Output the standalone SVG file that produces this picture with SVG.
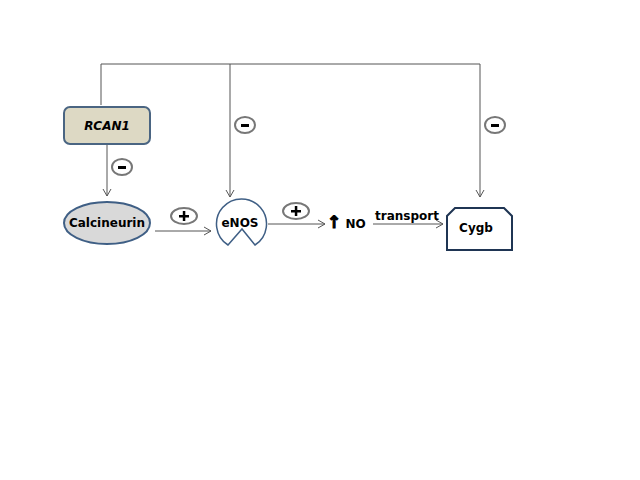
<svg xmlns="http://www.w3.org/2000/svg" width="640" height="480" viewBox="0 0 640 480">
<style>
.ln{fill:none;stroke:#555;stroke-width:1}
.sg{fill:#fff;stroke:#777;stroke-width:2}
.bar{fill:#000}
.t{font-family:"DejaVu Sans","Liberation Sans",sans-serif;font-weight:bold;font-size:12px;fill:#000}
</style>
<defs>
<marker id="ah" markerWidth="10" markerHeight="10" refX="8" refY="5" orient="auto" markerUnits="userSpaceOnUse">
<path d="M1,1 L8,5 L1,9" fill="none" stroke="#555" stroke-width="1"/>
</marker>
</defs>
<rect width="640" height="480" fill="#fff"/>
<g id="connectors">
<path class="ln" d="M101,105 V64 H480 V197" marker-end="url(#ah)"/>
<path class="ln" d="M230,64 V197" marker-end="url(#ah)"/>
<path class="ln" d="M107,145 V196" marker-end="url(#ah)"/>
<path class="ln" d="M155,231 H211" marker-end="url(#ah)"/>
<path class="ln" d="M268,224 H325" marker-end="url(#ah)"/>
<path class="ln" d="M373,224 H443" marker-end="url(#ah)"/>
</g>
<g id="signs">
<g><ellipse class="sg" cx="122" cy="167" rx="10" ry="8"/><rect class="bar" x="118" y="166" width="8" height="3"/></g>
<g><ellipse class="sg" cx="245" cy="125" rx="10" ry="8"/><rect class="bar" x="241" y="124" width="8" height="3"/></g>
<g><ellipse class="sg" cx="495" cy="125" rx="10" ry="8"/><rect class="bar" x="491" y="124" width="8" height="3"/></g>
<g><ellipse class="sg" cx="184" cy="216" rx="13" ry="8"/><rect class="bar" x="179" y="215" width="10" height="2.5"/><rect class="bar" x="182.8" y="211" width="2.5" height="10"/></g>
<g><ellipse class="sg" cx="296" cy="211" rx="13" ry="8"/><rect class="bar" x="291" y="210" width="10" height="2.5"/><rect class="bar" x="294.8" y="206" width="2.5" height="10"/></g>
</g>
<g id="RCAN1">
<rect x="64" y="107" width="86" height="37" rx="6" fill="#ddd9c4" stroke="#4a6582" stroke-width="2"/>
<text class="t" x="107" y="130" text-anchor="middle" font-style="italic">RCAN1</text>
</g>
<g id="Calcineurin">
<ellipse cx="107" cy="223" rx="43" ry="21" fill="#d9d9d9" stroke="#3f5f85" stroke-width="2"/>
<text class="t" x="107" y="227" text-anchor="middle">Calcineurin</text>
</g>
<g id="eNOS">
<path d="M228,245 A25,25 0 1 1 255,245 L242,229 Z" fill="#fff" stroke="#3f5f85" stroke-width="1.5"/>
<text class="t" x="240" y="227" text-anchor="middle" font-size="13">eNOS</text>
</g>
<g id="NO">
<text class="t" x="327" y="228" font-size="14"><tspan font-size="17" stroke="#000" stroke-width="1">↑</tspan> NO</text>
</g>
<text class="t" x="375" y="220">transport</text>
<g id="Cygb">
<path d="M447,250 V216 L455,208 H504 L512,216 V250 Z" fill="#fff" stroke="#1f3553" stroke-width="2"/>
<text class="t" x="476" y="232" text-anchor="middle">Cygb</text>
</g>
</svg>
